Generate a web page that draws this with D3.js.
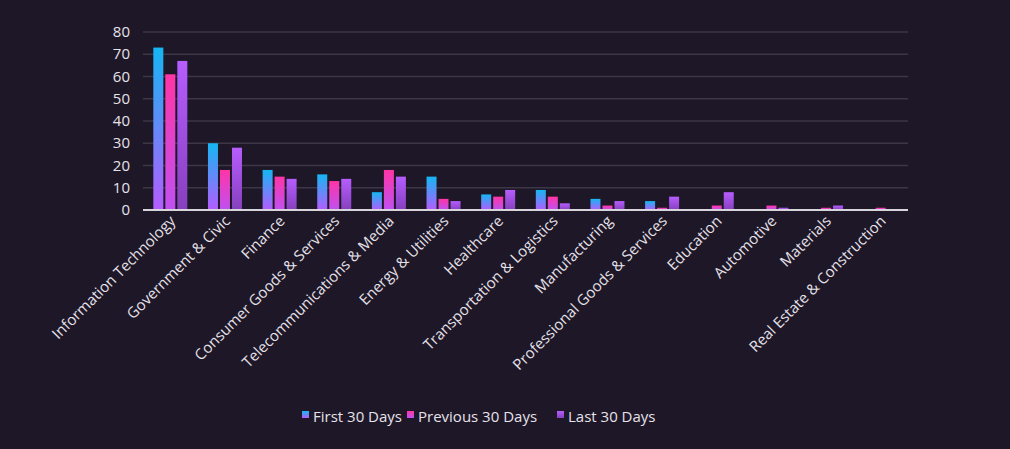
<!DOCTYPE html>
<html><head><meta charset="utf-8">
<script src="https://cdn.jsdelivr.net/npm/d3@7"></script>
<style>body{margin:0;background:#1e1727;}text{font-family:"Open Sans",sans-serif;}</style>
</head><body><svg id="c" width="1010" height="449"></svg>
<script>
const categories=["Information Technology","Government & Civic","Finance","Consumer Goods & Services","Telecommunications & Media","Energy & Utilities","Healthcare","Transportation & Logistics","Manufacturing","Professional Goods & Services","Education","Automotive","Materials","Real Estate & Construction"];
const seriesNames=["First 30 Days","Previous 30 Days","Last 30 Days"];
const first30=[73,30,18,16,8,15,7,9,5,4,0,0,0,0];
const prev30=[61,18,15,13,18,5,6,6,2,1,2,2,1,1];
const last30=[67,28,14,14,15,4,9,3,4,6,8,1,2,0];
const yTicks=[0,10,20,30,40,50,60,70,80];
const series=[first30,prev30,last30];
const grads=[["#15b6f2","#b45cff"],["#ff35a6","#c050f2"],["#b65dff","#8640bd"]];
const svg=d3.select("#c");
const defs=svg.append("defs");
grads.forEach((g,i)=>{const lg=defs.append("linearGradient").attr("id","g"+i).attr("x1",0).attr("y1",0).attr("x2",0).attr("y2",1);
lg.append("stop").attr("offset","0%").attr("stop-color",g[0]);lg.append("stop").attr("offset","100%").attr("stop-color",g[1]);});
const L=143,R=908,T=32,B=210;
const x=d3.scaleBand().domain(categories).range([L,R]);
const y=d3.scaleLinear().domain([0,80]).range([B,T]);
svg.append("g").selectAll("line").data(yTicks.slice(1)).join("line").attr("x1",L).attr("x2",R).attr("y1",d=>y(d)).attr("y2",d=>y(d)).attr("stroke","#3d3646").attr("stroke-width",1.5);
svg.append("g").selectAll("text").data(yTicks).join("text").attr("x",130).attr("y",d=>y(d)+5).attr("text-anchor","end").attr("fill","#e6e2ea").attr("font-size",15).text(d=>d);
const bw=10,gap=2;
series.forEach((s,si)=>{
svg.append("g").selectAll("rect").data(s).join("rect")
.attr("x",(d,i)=>x(categories[i])+x.bandwidth()/2-bw*1.5-gap+si*(bw+gap))
.attr("y",d=>y(d)).attr("width",bw).attr("height",d=>B-y(d))
.attr("fill","url(#g"+si+")");
});
svg.append("line").attr("x1",L).attr("x2",R).attr("y1",B).attr("y2",B).attr("stroke","#d8d4dc").attr("stroke-width",2);
svg.append("g").selectAll("text").data(categories).join("text")
.attr("transform",d=>`translate(${x(d)+x.bandwidth()/2+6},${B+12}) rotate(-45)`)
.attr("text-anchor","end").attr("fill","#e6e2ea").attr("font-size",15).text(d=>d);
const lx=[302,407,557];
seriesNames.forEach((n,i)=>{
svg.append("rect").attr("x",lx[i]).attr("y",411).attr("width",7).attr("height",7).attr("fill","url(#g"+i+")");
svg.append("text").attr("x",lx[i]+11).attr("y",422).attr("fill","#e6e2ea").attr("font-size",15).text(n);
});
</script></body></html>
